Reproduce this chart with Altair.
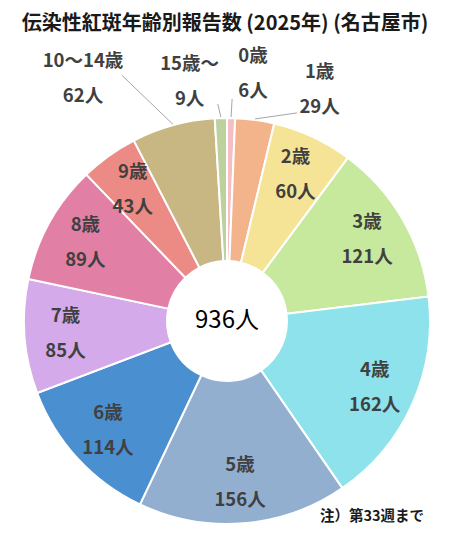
import json
import altair as alt
import pandas as pd

# ---- data ----
ages = ["0歳", "1歳", "2歳", "3歳", "4歳", "5歳", "6歳", "7歳", "8歳", "9歳", "10～14歳", "15歳～"]
counts = [6, 29, 60, 121, 162, 156, 114, 85, 89, 43, 62, 9]
colors = ["#F5BEC3", "#F4B48B", "#F5E496", "#C6E99D", "#8DE2EB", "#93AFD0",
          "#4A8FD0", "#D4AAEA", "#E27FA5", "#EC8A86", "#C8B683", "#BCD19C"]
outside = ["0歳", "1歳", "15歳～", "10～14歳"]
title_text = "伝染性紅斑年齢別報告数 (2025年) (名古屋市)"
note_text = "注）第33週まで"

FONT = "Noto Sans CJK JP"
CX, CY = 214, 283
R_IN, R_OUT = 60, 203
R_LABEL = 162
R_OUT_LABEL = 245
LINE_H = 35
DY0 = -LINE_H / 2  # centre the two-line block on its anchor
LABEL_SIZE = 18.5

df = pd.DataFrame({"age": ages, "count": counts, "order": list(range(len(ages)))})

base = (
    alt.Chart(df)
    .transform_joinaggregate(total="sum(count)")
    .transform_window(cum="sum(count)", sort=[alt.SortField("order", order="ascending")])
    .transform_calculate(
        start="2*PI*(datum.cum - datum.count)/datum.total",
        end="2*PI*datum.cum/datum.total",
    )
    .transform_calculate(
        mid="(datum.start + datum.end)/2",
        label="datum.age + '\\n' + datum.count + '人'",
    )
)

arcs = base.mark_arc(innerRadius=R_IN, outerRadius=R_OUT, stroke="white", strokeWidth=2).encode(
    theta=alt.Theta("start:Q", scale=None, stack=None),
    theta2="end:Q",
    color=alt.Color("age:N", scale=alt.Scale(domain=ages, range=colors), legend=None),
    x=alt.value(CX),
    y=alt.value(CY),
)

out_list = json.dumps(outside, ensure_ascii=False)
inside_labels = base.transform_filter(f"indexof({out_list}, datum.age) < 0").mark_text(
    lineBreak="\n", lineHeight=LINE_H, fontSize=LABEL_SIZE, fontWeight="bold", color="#404040",
    font=FONT, dy=DY0
).encode(
    theta=alt.Theta("mid:Q", scale=None, stack=None),
    radius=alt.value(R_LABEL),
    text="label:N",
    x=alt.value(CX),
    y=alt.value(CY),
)

# placement of outside labels: (text dx, text dy, leader dx, leader dy)
placement = {
    "0歳": (21, -3, 1, -18),
    "1歳": (59, 11, 42, -6),
    "15歳～": (-30, 5, -3, -13),
    "10～14歳": (-79, -6, -51, -49),
}

layers = [arcs, inside_labels]
for a in outside:
    tdx, tdy, ex, ey = placement[a]
    sub = base.transform_filter(alt.datum.age == a)
    txt = sub.mark_text(
        lineBreak="\n", lineHeight=LINE_H, fontSize=LABEL_SIZE, fontWeight="bold", color="#404040",
        font=FONT, dx=tdx, dy=tdy + DY0
    ).encode(
        theta=alt.Theta("mid:Q", scale=None, stack=None),
        radius=alt.value(R_OUT_LABEL),
        text="label:N",
        x=alt.value(CX),
        y=alt.value(CY),
    )
    leader = sub.transform_calculate(
        lx1=f"{CX} + {R_OUT + 1}*sin(datum.mid)",
        ly1=f"{CY} - {R_OUT + 1}*cos(datum.mid)",
    ).transform_calculate(
        lx2=f"datum.lx1 + ({ex})",
        ly2=f"datum.ly1 + ({ey})",
    ).mark_rule(color="#A6A6A6", strokeWidth=1).encode(
        x=alt.X("lx1:Q", scale=None),
        x2="lx2:Q",
        y=alt.Y("ly1:Q", scale=None),
        y2="ly2:Q",
    )
    layers += [leader, txt]

center = alt.Chart(df).transform_aggregate(total="sum(count)").transform_calculate(
    t="datum.total + '人'"
).mark_text(fontSize=24, color="#000000", font=FONT).encode(
    text="t:N", x=alt.value(CX), y=alt.value(CY)
)

note = alt.Chart(pd.DataFrame({"note": [note_text]})).mark_text(
    fontSize=14.5, fontWeight="bold", color="#1a1a1a", font=FONT
).encode(text="note:N", x=alt.value(359), y=alt.value(479))

layers += [center, note]

chart = alt.layer(*layers).properties(
    width=424,
    height=482,
    padding={"left": 5, "right": 5, "top": 6, "bottom": 0},
    title=alt.TitleParams(
        title_text, fontSize=20, fontWeight="bold", font=FONT, color="#1a1a1a",
        anchor="middle", offset=4
    ),
).configure_view(strokeWidth=0)

chart.save("out.html", embed_options={"renderer": "svg", "actions": False})
